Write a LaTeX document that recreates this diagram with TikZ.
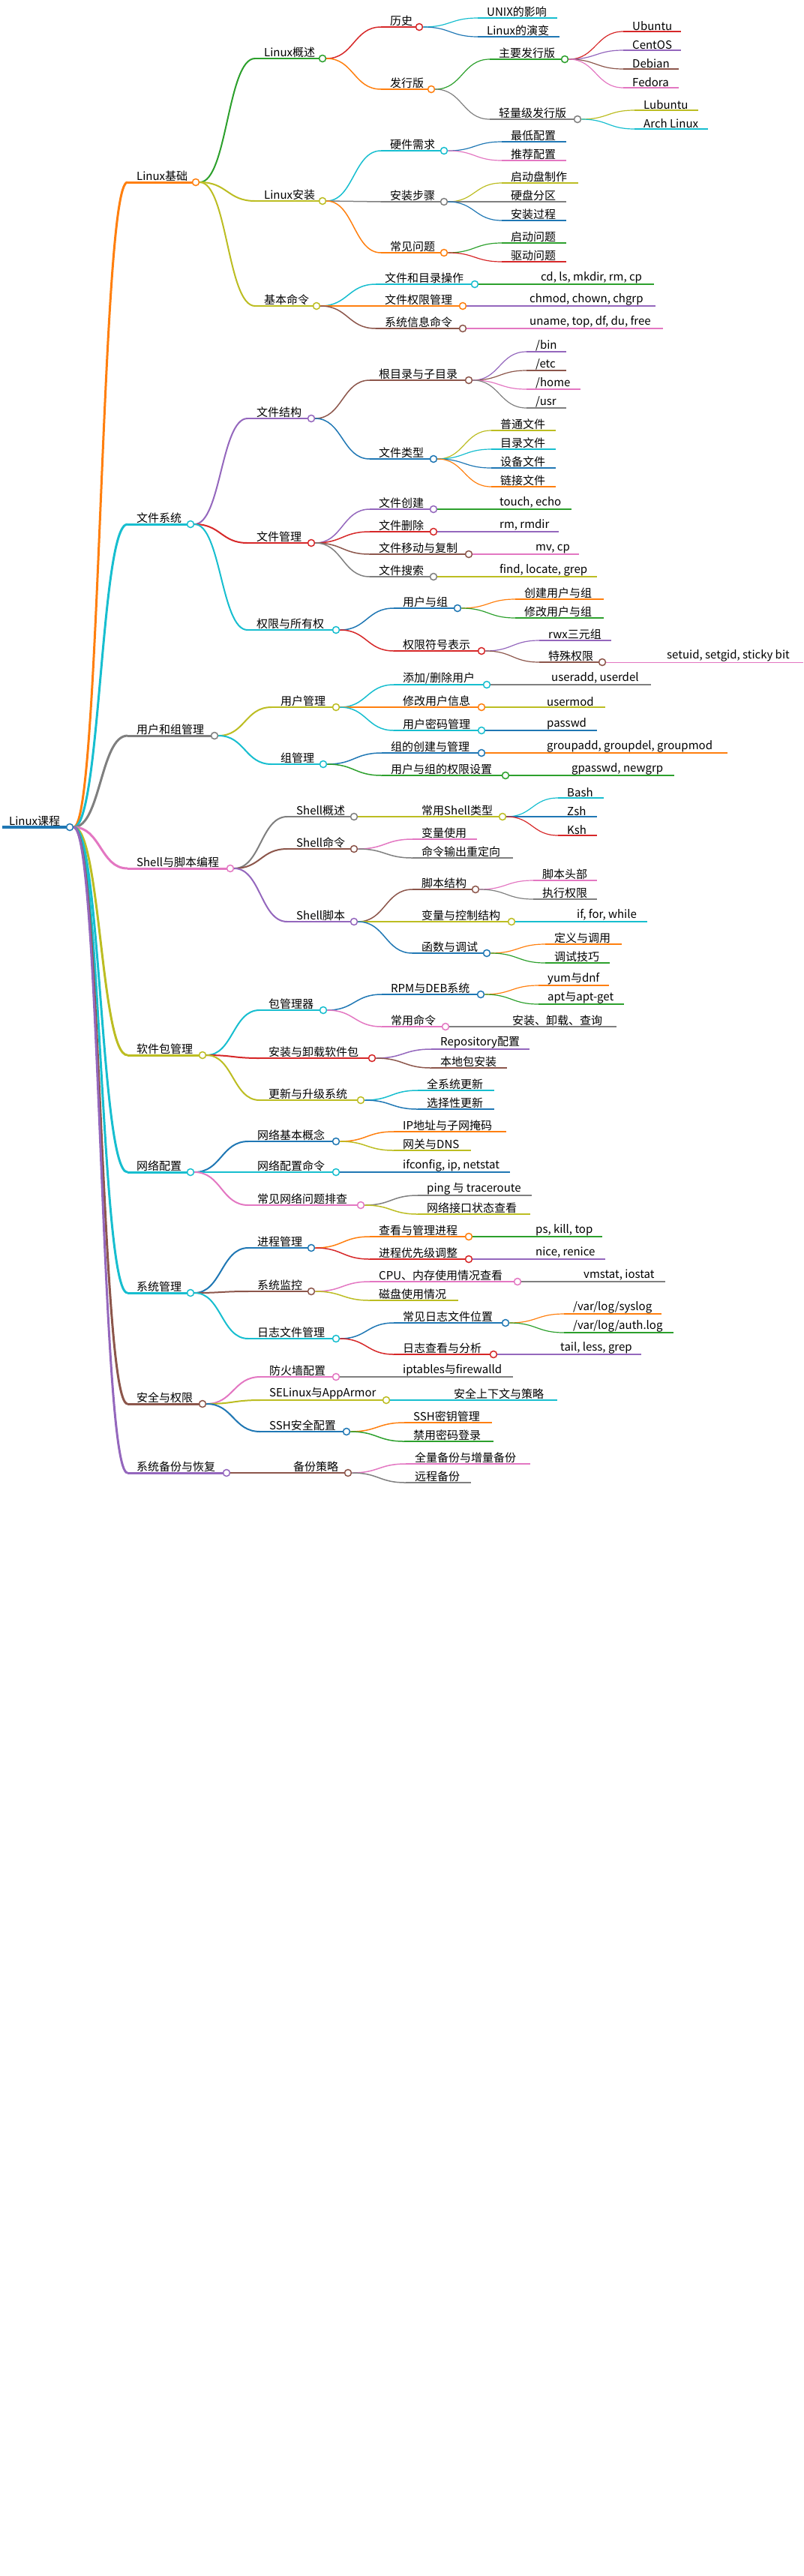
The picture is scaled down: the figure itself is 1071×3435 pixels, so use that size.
\documentclass[tikz,border=0pt]{standalone}
\usepackage{fontspec}
\setmainfont{Noto Sans CJK SC}
\usetikzlibrary{calc}

\definecolor{mblue}{HTML}{1F77B4}
\definecolor{morange}{HTML}{FF7F0E}
\definecolor{mgreen}{HTML}{2CA02C}
\definecolor{mred}{HTML}{D62728}
\definecolor{mpurple}{HTML}{9467BD}
\definecolor{mbrown}{HTML}{8C564B}
\definecolor{mpink}{HTML}{E377C2}
\definecolor{mgray}{HTML}{7F7F7F}
\definecolor{molive}{HTML}{BCBD22}
\definecolor{mcyan}{HTML}{17BECF}

\tikzset{
  lbl/.style={anchor=south west,inner sep=0pt,yshift=1pt,font=\fontsize{15}{18}\selectfont},
  dot/.style={circle,inner sep=0pt,minimum size=9pt,fill=white,line width=1.5pt}
}

% parent, name, width, x start, x circle, y, colour, text
\newcommand\branch[8]{%
  \coordinate (#2s) at (#4,#6);
  \draw[#7,line width=#3pt] let \p1=(#1c.east),\p2=(#2s) in
    (\p1) .. controls (\x1/2+\x2/2,\y1) and (\x1/2+\x2/2,\y2) .. (\p2);
  \draw[#7,line width=#3pt] (#2s) -- (#5-4.5,#6);
  \node[lbl] (#2) at (#4+12,#6) {#8};
  \node[dot,draw=#7] (#2c) at (#5,#6) {};}
% parent, name, width, x start, x end, y, colour, text
\newcommand\leaf[8]{%
  \coordinate (#2s) at (#4,#6);
  \draw[#7,line width=#3pt] let \p1=(#1c.east),\p2=(#2s) in
    (\p1) .. controls (\x1/2+\x2/2,\y1) and (\x1/2+\x2/2,\y2) .. (\p2);
  \draw[#7,line width=#3pt] (#2s) -- (#5,#6);
  \node[lbl] (#2) at (#4+12,#6) {#8};}

\begin{document}
\begin{tikzpicture}[x=1pt,y=-1pt]
\useasboundingbox (0,0) rectangle (1071,3435);
\draw[mblue,line width=4pt] (3,1103) -- (88.5,1103);
\node[lbl] (r) at (12,1103) {Linux课程};
\node[dot,draw=mblue] (rc) at (93,1103) {};

% Linux基础
\branch{r}{a}{3}{170}{261}{243}{morange}{Linux基础}
\branch{a}{a1}{2}{340}{430}{78}{mgreen}{Linux概述}
\branch{a1}{a11}{1.5}{508}{559}{36}{mred}{历史}
\leaf{a11}{a111}{1.2}{637}{743}{24}{mcyan}{UNIX的影响}
\leaf{a11}{a112}{1.2}{637}{746}{49}{mblue}{Linux的演变}
\branch{a1}{a12}{1.5}{508}{575}{119}{morange}{发行版}
\branch{a12}{a121}{1.2}{653}{753}{79}{mgreen}{主要发行版}
\leaf{a121}{a1211}{1.2}{831}{908}{42}{mred}{Ubuntu}
\leaf{a121}{a1212}{1.2}{831}{908}{67}{mpurple}{CentOS}
\leaf{a121}{a1213}{1.2}{831}{905}{92}{mbrown}{Debian}
\leaf{a121}{a1214}{1.2}{831}{905}{117}{mpink}{Fedora}
\branch{a12}{a122}{1.2}{653}{770}{159}{mgray}{轻量级发行版}
\leaf{a122}{a1221}{1.2}{846}{931}{147}{molive}{Lubuntu}
\leaf{a122}{a1222}{1.2}{846}{944}{172}{mcyan}{Arch Linux}
\branch{a}{a2}{2}{340}{430}{268}{molive}{Linux安装}
\branch{a2}{a21}{1.5}{508}{592}{201}{mcyan}{硬件需求}
\leaf{a21}{a211}{1.2}{669}{755}{189}{mblue}{最低配置}
\leaf{a21}{a212}{1.2}{669}{755}{214}{mpink}{推荐配置}
\branch{a2}{a22}{1.5}{508}{592}{269}{mgray}{安装步骤}
\leaf{a22}{a221}{1.2}{669}{771}{244}{molive}{启动盘制作}
\leaf{a22}{a222}{1.2}{669}{755}{269}{mgray}{硬盘分区}
\leaf{a22}{a223}{1.2}{669}{755}{294}{mblue}{安装过程}
\branch{a2}{a23}{1.5}{508}{592}{337}{morange}{常见问题}
\leaf{a23}{a231}{1.2}{669}{755}{324}{mgreen}{启动问题}
\leaf{a23}{a232}{1.2}{669}{755}{349}{mred}{驱动问题}
\branch{a}{a3}{2}{340}{422}{408}{molive}{基本命令}
\branch{a3}{a31}{1.5}{501}{633}{379}{mcyan}{文件和目录操作}
\leaf{a31}{a311}{1.2}{709}{872}{379}{mgreen}{cd, ls, mkdir, rm, cp}
\branch{a3}{a32}{1.5}{501}{617}{408}{morange}{文件权限管理}
\leaf{a32}{a321}{1.2}{694}{874}{408}{mpurple}{chmod, chown, chgrp}
\branch{a3}{a33}{1.5}{501}{617}{438}{mbrown}{系统信息命令}
\leaf{a33}{a331}{1.2}{694}{884}{438}{mpink}{uname, top, df, du, free}

% 文件系统
\branch{r}{b}{3}{170}{254}{699}{mcyan}{文件系统}
\branch{b}{b1}{2}{330}{415}{558}{mpurple}{文件结构}
\branch{b1}{b11}{1.5}{493}{625}{507}{mbrown}{根目录与子目录}
\leaf{b11}{b111}{1.2}{702}{755}{469}{mpurple}{/bin}
\leaf{b11}{b112}{1.2}{702}{755}{494}{mbrown}{/etc}
\leaf{b11}{b113}{1.2}{702}{774}{519}{mpink}{/home}
\leaf{b11}{b114}{1.2}{702}{755}{544}{mgray}{/usr}
\branch{b1}{b12}{1.5}{493}{578}{612}{mblue}{文件类型}
\leaf{b12}{b121}{1.2}{655}{741}{574}{molive}{普通文件}
\leaf{b12}{b122}{1.2}{655}{741}{599}{mcyan}{目录文件}
\leaf{b12}{b123}{1.2}{655}{741}{624}{mblue}{设备文件}
\leaf{b12}{b124}{1.2}{655}{741}{649}{morange}{链接文件}
\branch{b}{b2}{2}{330}{415}{724}{mred}{文件管理}
\branch{b2}{b21}{1.5}{493}{578}{679}{mpurple}{文件创建}
\leaf{b21}{b211}{1.2}{654}{762}{679}{mgreen}{touch, echo}
\branch{b2}{b22}{1.5}{493}{578}{709}{mred}{文件删除}
\leaf{b22}{b221}{1.2}{654}{745}{709}{mpurple}{rm, rmdir}
\branch{b2}{b23}{1.5}{493}{625}{739}{mbrown}{文件移动与复制}
\leaf{b23}{b231}{1.2}{702}{772}{739}{mpink}{mv, cp}
\branch{b2}{b24}{1.5}{493}{578}{769}{mgray}{文件搜索}
\leaf{b24}{b241}{1.2}{654}{796}{769}{molive}{find, locate, grep}
\branch{b}{b3}{2}{330}{448}{840}{mcyan}{权限与所有权}
\branch{b3}{b31}{1.5}{525}{610}{811}{mblue}{用户与组}
\leaf{b31}{b311}{1.2}{687}{805}{799}{morange}{创建用户与组}
\leaf{b31}{b312}{1.2}{687}{805}{824}{mgreen}{修改用户与组}
\branch{b3}{b32}{1.5}{525}{642}{868}{mred}{权限符号表示}
\leaf{b32}{b321}{1.2}{719}{815}{854}{mpurple}{rwx三元组}
\branch{b32}{b322}{1.2}{719}{803}{883}{mbrown}{特殊权限}
\leaf{b322}{b3221}{1}{877}{1071}{883}{mpink}{setuid, setgid, sticky bit}

% 用户和组管理
\branch{r}{c}{3}{170}{286}{981}{mgray}{用户和组管理}
\branch{c}{c1}{2}{362}{448}{943}{molive}{用户管理}
\branch{c1}{c11}{1.5}{525}{649}{913}{mcyan}{添加/删除用户}
\leaf{c11}{c111}{1.2}{723}{868}{913}{mgray}{useradd, userdel}
\branch{c1}{c12}{1.5}{525}{642}{943}{morange}{修改用户信息}
\leaf{c12}{c121}{1.2}{717}{807}{943}{molive}{usermod}
\branch{c1}{c13}{1.5}{525}{642}{974}{mcyan}{用户密码管理}
\leaf{c13}{c131}{1.2}{717}{796}{974}{mblue}{passwd}
\branch{c}{c2}{2}{362}{431}{1019}{mcyan}{组管理}
\branch{c2}{c21}{1.5}{509}{642}{1004}{mblue}{组的创建与管理}
\leaf{c21}{c211}{1.2}{717}{970}{1004}{morange}{groupadd, groupdel, groupmod}
\branch{c2}{c22}{1.5}{509}{674}{1034}{mgreen}{用户与组的权限设置}
\leaf{c22}{c221}{1.2}{750}{899}{1034}{mgreen}{gpasswd, newgrp}

% Shell与脚本编程
\branch{r}{d}{3}{170}{307}{1158}{mpink}{Shell与脚本编程}
\branch{d}{d1}{2}{383}{472}{1089}{mgray}{Shell概述}
\branch{d1}{d11}{1.5}{550}{670}{1089}{molive}{常用Shell类型}
\leaf{d11}{d111}{1.2}{744}{805}{1064}{mcyan}{Bash}
\leaf{d11}{d112}{1.2}{744}{796}{1089}{mblue}{Zsh}
\leaf{d11}{d113}{1.2}{744}{796}{1114}{mred}{Ksh}
\branch{d}{d2}{2}{383}{472}{1132}{mbrown}{Shell命令}
\leaf{d2}{d21}{1.5}{550}{636}{1119}{mpink}{变量使用}
\leaf{d2}{d22}{1.5}{550}{684}{1144}{mgray}{命令输出重定向}
\branch{d}{d3}{2}{383}{472}{1229}{mpurple}{Shell脚本}
\branch{d3}{d31}{1.5}{550}{634}{1186}{mbrown}{脚本结构}
\leaf{d31}{d311}{1.2}{711}{796}{1174}{mpink}{脚本头部}
\leaf{d31}{d312}{1.2}{711}{796}{1199}{mgray}{执行权限}
\branch{d3}{d32}{1.5}{550}{682}{1229}{molive}{变量与控制结构}
\leaf{d32}{d321}{1.2}{757}{863}{1229}{mcyan}{if, for, while}
\branch{d3}{d33}{1.5}{550}{649}{1271}{mblue}{函数与调试}
\leaf{d33}{d331}{1.2}{727}{829}{1259}{morange}{定义与调用}
\leaf{d33}{d332}{1.2}{727}{813}{1284}{mgreen}{调试技巧}

% 软件包管理
\branch{r}{e}{3}{170}{270}{1407}{molive}{软件包管理}
\branch{e}{e1}{2}{346}{431}{1347}{mcyan}{包管理器}
\branch{e1}{e11}{1.5}{509}{641}{1326}{mblue}{RPM与DEB系统}
\leaf{e11}{e111}{1.2}{718}{812}{1314}{morange}{yum与dnf}
\leaf{e11}{e112}{1.2}{718}{832}{1339}{mgreen}{apt与apt-get}
\branch{e1}{e12}{1.5}{509}{594}{1369}{mpink}{常用命令}
\leaf{e12}{e121}{1.2}{671}{822}{1369}{mgray}{安装、卸载、查询}
\branch{e}{e2}{2}{346}{496}{1411}{mred}{安装与卸载软件包}
\leaf{e2}{e21}{1.5}{575}{706}{1399}{mpurple}{Repository配置}
\leaf{e2}{e22}{1.5}{575}{676}{1424}{mbrown}{本地包安装}
\branch{e}{e3}{2}{346}{481}{1467}{molive}{更新与升级系统}
\leaf{e3}{e31}{1.5}{557}{659}{1454}{mcyan}{全系统更新}
\leaf{e3}{e32}{1.5}{557}{659}{1479}{mblue}{选择性更新}

% 网络配置
\branch{r}{f}{3}{170}{254}{1563}{mcyan}{网络配置}
\branch{f}{f1}{2}{331}{448}{1522}{mblue}{网络基本概念}
\leaf{f1}{f11}{1.5}{525}{675}{1509}{morange}{IP地址与子网掩码}
\leaf{f1}{f12}{1.5}{525}{628}{1534}{molive}{网关与DNS}
\branch{f}{f2}{2}{331}{448}{1563}{mcyan}{网络配置命令}
\leaf{f2}{f21}{1.5}{525}{680}{1563}{mblue}{ifconfig, ip, netstat}
\branch{f}{f3}{2}{331}{481}{1607}{mpink}{常见网络问题排查}
\leaf{f3}{f31}{1.5}{557}{709}{1594}{mgray}{ping 与 traceroute}
\leaf{f3}{f32}{1.5}{557}{707}{1619}{molive}{网络接口状态查看}

% 系统管理
\branch{r}{g}{3}{170}{254}{1724}{mcyan}{系统管理}
\branch{g}{g1}{2}{331}{415}{1664}{mblue}{进程管理}
\branch{g1}{g11}{1.5}{493}{625}{1649}{morange}{查看与管理进程}
\leaf{g11}{g111}{1.2}{702}{803}{1649}{mgreen}{ps, kill, top}
\branch{g1}{g12}{1.5}{493}{625}{1679}{mred}{进程优先级调整}
\leaf{g12}{g121}{1.2}{702}{807}{1679}{mpurple}{nice, renice}
\branch{g}{g2}{2}{331}{415}{1722}{mbrown}{系统监控}
\branch{g2}{g21}{1.5}{493}{690}{1709}{mpink}{CPU、内存使用情况查看}
\leaf{g21}{g211}{1.2}{766}{887}{1709}{mgray}{vmstat, iostat}
\leaf{g2}{g22}{1.5}{493}{611}{1734}{molive}{磁盘使用情况}
\branch{g}{g3}{2}{331}{448}{1785}{mcyan}{日志文件管理}
\branch{g3}{g31}{1.5}{525}{674}{1764}{mblue}{常见日志文件位置}
\leaf{g31}{g311}{1.2}{752}{882}{1752}{morange}{/var/log/syslog}
\leaf{g31}{g312}{1.2}{752}{898}{1777}{mgreen}{/var/log/auth.log}
\branch{g3}{g32}{1.5}{525}{658}{1806}{mred}{日志查看与分析}
\leaf{g32}{g321}{1.2}{735}{855}{1806}{mpurple}{tail, less, grep}

% 安全与权限
\branch{r}{h}{3}{170}{270}{1872}{mbrown}{安全与权限}
\branch{h}{h1}{2}{347}{448}{1836}{mpink}{防火墙配置}
\leaf{h1}{h11}{1.5}{525}{684}{1836}{mgray}{iptables与firewalld}
\branch{h}{h2}{2}{347}{515}{1867}{molive}{SELinux与AppArmor}
\leaf{h2}{h21}{1.5}{593}{743}{1867}{mcyan}{安全上下文与策略}
\branch{h}{h3}{2}{347}{462}{1909}{mblue}{SSH安全配置}
\leaf{h3}{h31}{1.5}{539}{656}{1897}{morange}{SSH密钥管理}
\leaf{h3}{h32}{1.5}{539}{658}{1922}{mgreen}{禁用密码登录}

% 系统备份与恢复
\branch{r}{i}{3}{170}{302}{1964}{mpurple}{系统备份与恢复}
\branch{i}{i1}{2}{379}{464}{1964}{mbrown}{备份策略}
\leaf{i1}{i11}{1.5}{541}{707}{1952}{mpink}{全量备份与增量备份}
\leaf{i1}{i12}{1.5}{541}{628}{1977}{mgray}{远程备份}
\end{tikzpicture}
\end{document}
